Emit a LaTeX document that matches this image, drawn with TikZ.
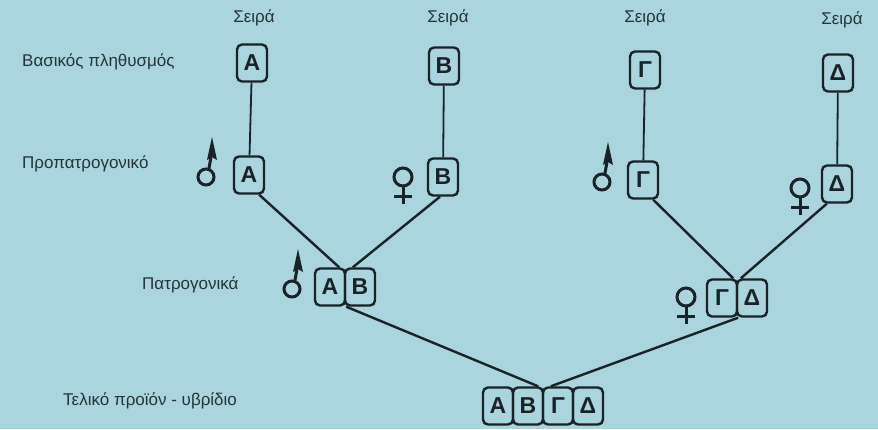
\documentclass[tikz,border=0pt]{standalone}
\usepackage{fontspec}
\setmainfont{Liberation Sans}
\usetikzlibrary{calc,arrows.meta}
\definecolor{bgc}{RGB}{170,213,222}
\definecolor{ink}{RGB}{25,34,38}
\definecolor{txt}{RGB}{38,52,58}
\begin{document}
\begin{tikzpicture}[x=1pt,y=-1pt,
  lbl/.style={font=\fontsize{17}{20}\selectfont, text=txt, inner sep=0pt},
  box/.style={draw=ink, line width=2.4pt, rounded corners=5pt, minimum width=30pt, minimum height=37pt, inner sep=0pt, font=\fontsize{23}{26}\selectfont\bfseries, text=ink},
  link/.style={draw=ink, line width=2.4pt},
  vline/.style={draw=ink, line width=1.8pt},
  sym/.style={draw=ink, line width=3pt},
  male/.pic={\draw[sym] (0,0) circle (8pt);
             \draw[sym] (70:8pt) -- (5,-20);
             \fill[ink] (6,-40) -- (11,-17) -- (6,-20) -- (1,-17) -- cycle;},
  female/.pic={\draw[sym] (0,0) circle (9pt);
               \draw[sym] (0,9) -- (0,27);
               \draw[sym] (-9,19) -- (9,19);}
]
\fill[bgc] (0,0) rectangle (878,429);
\useasboundingbox (0,0) rectangle (878,429);

% column titles
\node[lbl] (s1) at (254,18) {Σειρά};
\node[lbl] (s2) at (448,18) {Σειρά};
\node[lbl] (s3) at (645,18) {Σειρά};
\node[lbl] (s4) at (842,20) {Σειρά};

% row labels
\node[lbl,anchor=west] (r1) at (22,62) {Βασικός πληθυσμός};
\node[lbl,anchor=west] (r2) at (22,164) {Προπατρογονικό};
\node[lbl,anchor=west] (r3) at (142,285) {Πατρογονικά};
\node[lbl,anchor=west] (r4) at (63,401) {Τελικό προϊόν - υβρίδιο};

% base population
\node[box] (tA) at (252,63) {Α};
\node[box] (tB) at (444,66) {Β};
\node[box] (tG) at (645,70) {Γ};
\node[box] (tD) at (838,73) {Δ};

% grandparents
\node[box] (gA) at (249,175) {Α};
\node[box] (gB) at (443,177) {Β};
\node[box] (gG) at (643,180) {Γ};
\node[box] (gD) at (837,184) {Δ};

% parents
\node[box] (pA) at (330,287) {Α};
\node[box] (pB) at (360,287) {Β};
\node[box] (pG) at (722,298) {Γ};
\node[box] (pD) at (752,298) {Δ};

% final hybrid
\node[box] (fA) at (498,406) {Α};
\node[box] (fB) at (528,406) {Β};
\node[box] (fG) at (558,406) {Γ};
\node[box] (fD) at (588,406) {Δ};

% connectors
\draw[vline] (tA) -- (gA);
\draw[vline] (tB) -- (gB);
\draw[vline] (tG) -- (gG);
\draw[vline] (tD) -- (gD);

\draw[link] ($(gA.south east)+(-6,0)$) -- ($(pA.north east)+(-7,0)$);
\draw[link] ($(gB.south)+(-3,0)$) -- ($(pB.north west)+(9,0)$);
\draw[link] ($(gG.south east)+(-6,0)$) -- ($(pG.north east)+(-5,0)$);
\draw[link] ($(gD.south west)+(6,0)$) -- ($(pD.north west)+(5,0)$);
\draw[link] (pA.south east) -- ($(fB.north east)+(-6,0)$);
\draw[link] (pG.south east) -- ($(fG.north west)+(9,0)$);

% sex symbols
\pic at (206,177) {male};
\pic at (292,289) {male};
\pic at (602,182) {male};
\pic at (403,177) {female};
\pic at (800,188) {female};
\pic at (686,297) {female};
\end{tikzpicture}
\end{document}
